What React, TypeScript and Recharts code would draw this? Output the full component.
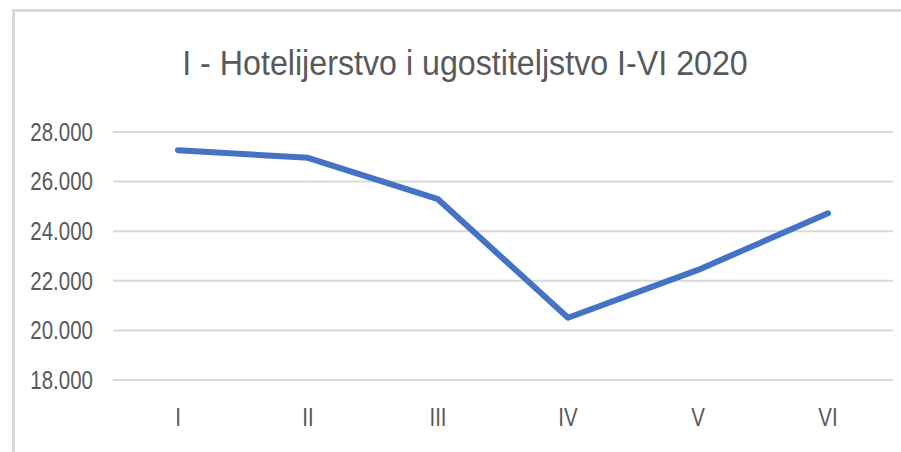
import React from 'react';
import { LineChart, Line, XAxis, YAxis, CartesianGrid } from 'recharts';

const months = ['I', 'II', 'III', 'IV', 'V', 'VI'];
const values = [27265, 26960, 25290, 20510, 22440, 24720];
const yTicks = [18000, 20000, 22000, 24000, 26000, 28000];
const title = 'I - Hotelijerstvo i ugostiteljstvo I-VI 2020';

const data = months.map((m, i) => ({ month: m, value: values[i] }));

const FONT = '"Liberation Sans", Arial, sans-serif';
const TEXT = '#595959';
const NARROW = 0.82;
const TITLE_NARROW = 0.92;

const fmt = (v: number) => {
  const s = Math.round(v).toString();
  return s.replace(/\B(?=(\d{3})+(?!\d))/g, '.');
};

const YTick = (props: any) => {
  const { x, y, payload } = props;
  return (
    <g transform={`translate(${x},${y})`}>
      <text
        transform={`scale(${NARROW},1)`}
        textAnchor="end"
        dy="0.355em"
        fill={TEXT}
        fontSize={25}
        fontFamily={FONT}
      >
        {fmt(payload.value)}
      </text>
    </g>
  );
};

const XTick = (props: any) => {
  const { x, y, payload } = props;
  return (
    <g transform={`translate(${x},${y})`}>
      <text
        transform={`scale(${NARROW},1)`}
        textAnchor="middle"
        dy="0.71em"
        fill={TEXT}
        fontSize={25}
        fontFamily={FONT}
      >
        {payload.value}
      </text>
    </g>
  );
};

export default function App() {
  return (
    <div style={{ position: 'absolute', left: 0, top: 0, width: 901, height: 452, background: '#fff', overflow: 'hidden' }}>
      <div
        style={{
          position: 'absolute',
          left: 12,
          top: 9,
          width: 920,
          height: 460,
          borderLeft: '3px solid #d9d9d9',
          borderTop: '3px solid #d9d9d9',
          boxSizing: 'border-box',
        }}
      />
      <div
        style={{
          position: 'absolute',
          left: 13,
          width: 904,
          top: 45,
          textAlign: 'center',
          fontFamily: FONT,
          fontSize: 35,
          lineHeight: '35px',
          color: TEXT,
          whiteSpace: 'nowrap',
          transform: `scaleX(${TITLE_NARROW})`,
          transformOrigin: '50% 50%',
        }}
      >
        {title}
      </div>
      <div style={{ position: 'absolute', left: 0, top: 0 }}>
        <LineChart
          width={901}
          height={452}
          data={data}
          margin={{ top: 132, right: 8, bottom: 22, left: 13 }}
        >
          <CartesianGrid vertical={false} stroke="#d9d9d9" strokeWidth={2} />
          <XAxis
            dataKey="month"
            axisLine={false}
            tickLine={false}
            tickSize={0}
            tickMargin={28}
            height={50}
            padding={{ left: 65, right: 65 }}
            tick={<XTick />}
          />
          <YAxis
            domain={[18000, 28000]}
            ticks={yTicks}
            width={100}
            axisLine={false}
            tickLine={false}
            tickSize={0}
            tickMargin={20}
            tick={<YTick />}
          />
          <Line
            type="linear"
            dataKey="value"
            stroke="#4472C4"
            strokeWidth={6}
            strokeLinecap="round"
            strokeLinejoin="round"
            dot={false}
            activeDot={false}
            isAnimationActive={false}
          />
        </LineChart>
      </div>
    </div>
  );
}
